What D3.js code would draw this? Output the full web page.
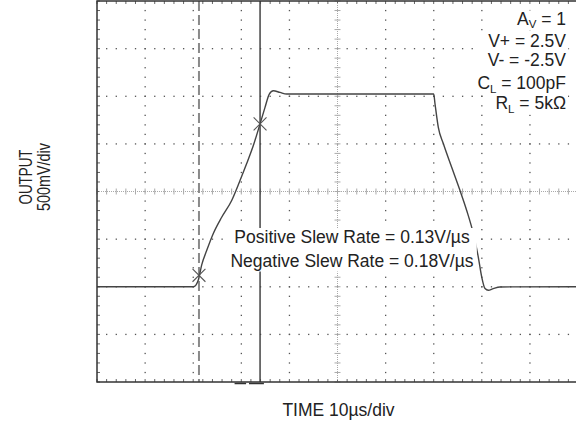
<!DOCTYPE html>
<html><head><meta charset="utf-8">
<script src="https://cdn.jsdelivr.net/npm/d3@7"></script>
<style>body{margin:0;background:#fff}svg{display:block}text{font-family:"Liberation Sans",Arial,sans-serif;fill:#222}</style>
</head><body><svg id="c" width="576" height="425"></svg>
<script>
// ---- data ----
const timeUs = [0, 20, 20.6, 21.06, 21.77, 22.8, 24.18, 25.92, 28.0, 29.73, 31.12, 32.5, 33.89, 34.93, 35.82, 36.65, 38.05, 39.44,
  70, 70.27, 70.96, 72.0, 73.74, 75.47, 76.86, 78.23, 79.27, 79.98, 80.67, 81.35, 82.39, 83.78, 100];
const outputV = [-1.0, -1.0, -0.98, -0.93, -0.77, -0.62, -0.44, -0.27, -0.094, 0.115, 0.293, 0.482, 0.709, 0.883, 1.023, 1.058, 1.04, 1.023,
  1.023, 0.921, 0.673, 0.503, 0.254, 0.01, -0.199, -0.44, -0.688, -0.897, -1.019, -1.037, -1.019, -1.002, -1.0];
const cursorT = [21.2, 33.9];
const cursorV = [-0.88, 0.71];
const cursorStyle = ["dashed", "solid"];
const cursorTabs = [[28.6, 31.0], [31.6, 34.7]];
const timeDomain = [0, 100];      // 10 div x 10us
const voltDomain = [-2, 2];       // 8 div x 0.5V
const paramMain = ["A", "V+ = 2.5V", "V- = -2.5V", "C", "R"];
const paramSub  = ["V", "", "", "L", "L"];
const paramRest = [" = 1", "", "", " = 100pF", " = 5k\u03A9"];
const slewLabels = ["Positive Slew Rate = 0.13V/\u00B5s", "Negative Slew Rate = 0.18V/\u00B5s"];
const xLabel = "TIME 10\u00B5s/div";
const yLabels = ["OUTPUT", "500mV/div"];

// ---- scales ----
const svg = d3.select("#c");
const x = d3.scaleLinear().domain(timeDomain).range([97, 578]);
const y = d3.scaleLinear().domain(voltDomain).range([382, 1]);
const minorT = d3.range(0, 100.001, 2);
const minorV = d3.range(-20, 20.001, 1).map(d => d / 10);
const majorT = [10, 20, 30, 40, 60, 70, 80, 90];
const majorV = [-1.5, -1, -0.5, 0.5, 1, 1.5];

// grid dots
const g = svg.append("g");
majorT.forEach(t => {
  g.selectAll(null).data(minorV.slice(1, -1)).join("rect")
    .attr("x", x(t) - 0.6).attr("y", d => y(d) - 0.6).attr("width", 1.3).attr("height", 1.3).attr("fill", "#555");
});
majorV.forEach(v => {
  g.selectAll(null).data(minorT.slice(1, -1)).join("rect")
    .attr("x", d => x(d) - 0.6).attr("y", y(v) - 0.6).attr("width", 1.3).attr("height", 1.3).attr("fill", "#555");
});
// border ticks
g.selectAll(null).data(minorV).join("line")
  .attr("x1", x(0)).attr("x2", x(0) + 3).attr("y1", d => y(d)).attr("y2", d => y(d)).attr("stroke", "#666");
g.selectAll(null).data(minorT).join("line")
  .attr("x1", d => x(d)).attr("x2", d => x(d)).attr("y1", y(2)).attr("y2", y(2) + 3).attr("stroke", "#666");
g.selectAll(null).data(minorT).join("line")
  .attr("x1", d => x(d)).attr("x2", d => x(d)).attr("y1", y(-2)).attr("y2", y(-2) - 3).attr("stroke", "#666");
// center axes
g.append("line").attr("x1", x(0)).attr("x2", x(100)).attr("y1", y(0)).attr("y2", y(0))
  .attr("stroke", "#aaa").attr("stroke-dasharray", "1,1");
g.append("line").attr("x1", x(50)).attr("x2", x(50)).attr("y1", y(-2)).attr("y2", y(2))
  .attr("stroke", "#aaa").attr("stroke-dasharray", "1,1");
g.selectAll(null).data(minorT).join("line")
  .attr("x1", d => x(d)).attr("x2", d => x(d)).attr("y1", y(0) - 3).attr("y2", y(0) + 3).attr("stroke", "#aaa");
g.selectAll(null).data(minorV).join("line")
  .attr("x1", x(50) - 3).attr("x2", x(50) + 3).attr("y1", d => y(d)).attr("y2", d => y(d)).attr("stroke", "#aaa");

// cursors
svg.selectAll(null).data(cursorT).join("line")
  .attr("x1", d => x(d)).attr("x2", d => x(d)).attr("y1", y(2)).attr("y2", y(-2))
  .attr("stroke", (d, i) => cursorStyle[i] === "dashed" ? "#8a8a8a" : "#444")
  .attr("stroke-width", (d, i) => cursorStyle[i] === "dashed" ? 2 : 1.5)
  .attr("stroke-dasharray", (d, i) => cursorStyle[i] === "dashed" ? "10,4" : null);

// waveform
const pts = timeUs.map((t, i) => [t, outputV[i]]);
svg.append("path").datum(pts)
  .attr("d", d3.line().x(d => x(d[0])).y(d => y(d[1])).curve(d3.curveMonotoneX))
  .attr("fill", "none").attr("stroke", "#444").attr("stroke-width", 1.4);

// cross markers
const xs = d3.symbol().type(d3.symbolX).size(110);
svg.selectAll(null).data(cursorT).join("path")
  .attr("transform", (d, i) => `translate(${x(d)},${y(cursorV[i])})`)
  .attr("d", xs).attr("fill", "none").attr("stroke", "#555").attr("stroke-width", 1.1);

// frame
svg.append("rect").attr("x", x(0)).attr("y", y(2)).attr("width", x(100) - x(0)).attr("height", y(-2) - y(2))
  .attr("fill", "none").attr("stroke", "#333").attr("stroke-width", 1.5);
// cursor tabs under bottom border
svg.selectAll(null).data(cursorTabs).join("line")
  .attr("x1", d => x(d[0])).attr("x2", d => x(d[1])).attr("y1", y(-2) + 1.5).attr("y2", y(-2) + 1.5)
  .attr("stroke", "#333").attr("stroke-width", 1.5);

// parameter block
const pbg = svg.append("g");
const pg = svg.append("g");
const baseY = [24.5, 46.5, 65.5, 89, 109];
paramMain.forEach((m, i) => {
  const t = pg.append("text").attr("x", 566).attr("y", baseY[i]).attr("text-anchor", "end").attr("font-size", 17.5);
  t.append("tspan").text(m);
  if (paramSub[i]) {
    t.append("tspan").attr("dy", 3.5).attr("font-size", 11.5).text(paramSub[i]);
    t.append("tspan").attr("dy", -3.5).text(paramRest[i]);
  }
  const b = t.node().getBBox();
  pbg.append("rect").attr("x", b.x - 10).attr("y", b.y + 2).attr("width", b.width + 12).attr("height", b.height - 2).attr("fill", "#fff");
});

// slew labels
const sbg = svg.append("g");
const sg = svg.append("g");
slewLabels.forEach((s, i) => {
  sg.append("text").attr("x", 352).attr("y", 243 + i * 23.5).attr("text-anchor", "middle").attr("font-size", 17.5).text(s);
});
const sb = sg.node().getBBox();
sbg.append("rect").attr("x", sb.x - 3).attr("y", sb.y + 1).attr("width", sb.width + 6).attr("height", sb.height).attr("fill", "#fff");

// axis labels
svg.append("text").attr("x", 338.5).attr("y", 416).attr("text-anchor", "middle").attr("font-size", 17.5).text(xLabel);
yLabels.forEach((s, i) => {
  svg.append("text").attr("transform", `translate(${32 + i * 18},177) rotate(-90)`)
    .attr("text-anchor", "middle").attr("font-size", 17.5)
    .attr("textLength", i === 0 ? 55 : 68).attr("lengthAdjust", "spacingAndGlyphs").text(s);
});
</script></body></html>
